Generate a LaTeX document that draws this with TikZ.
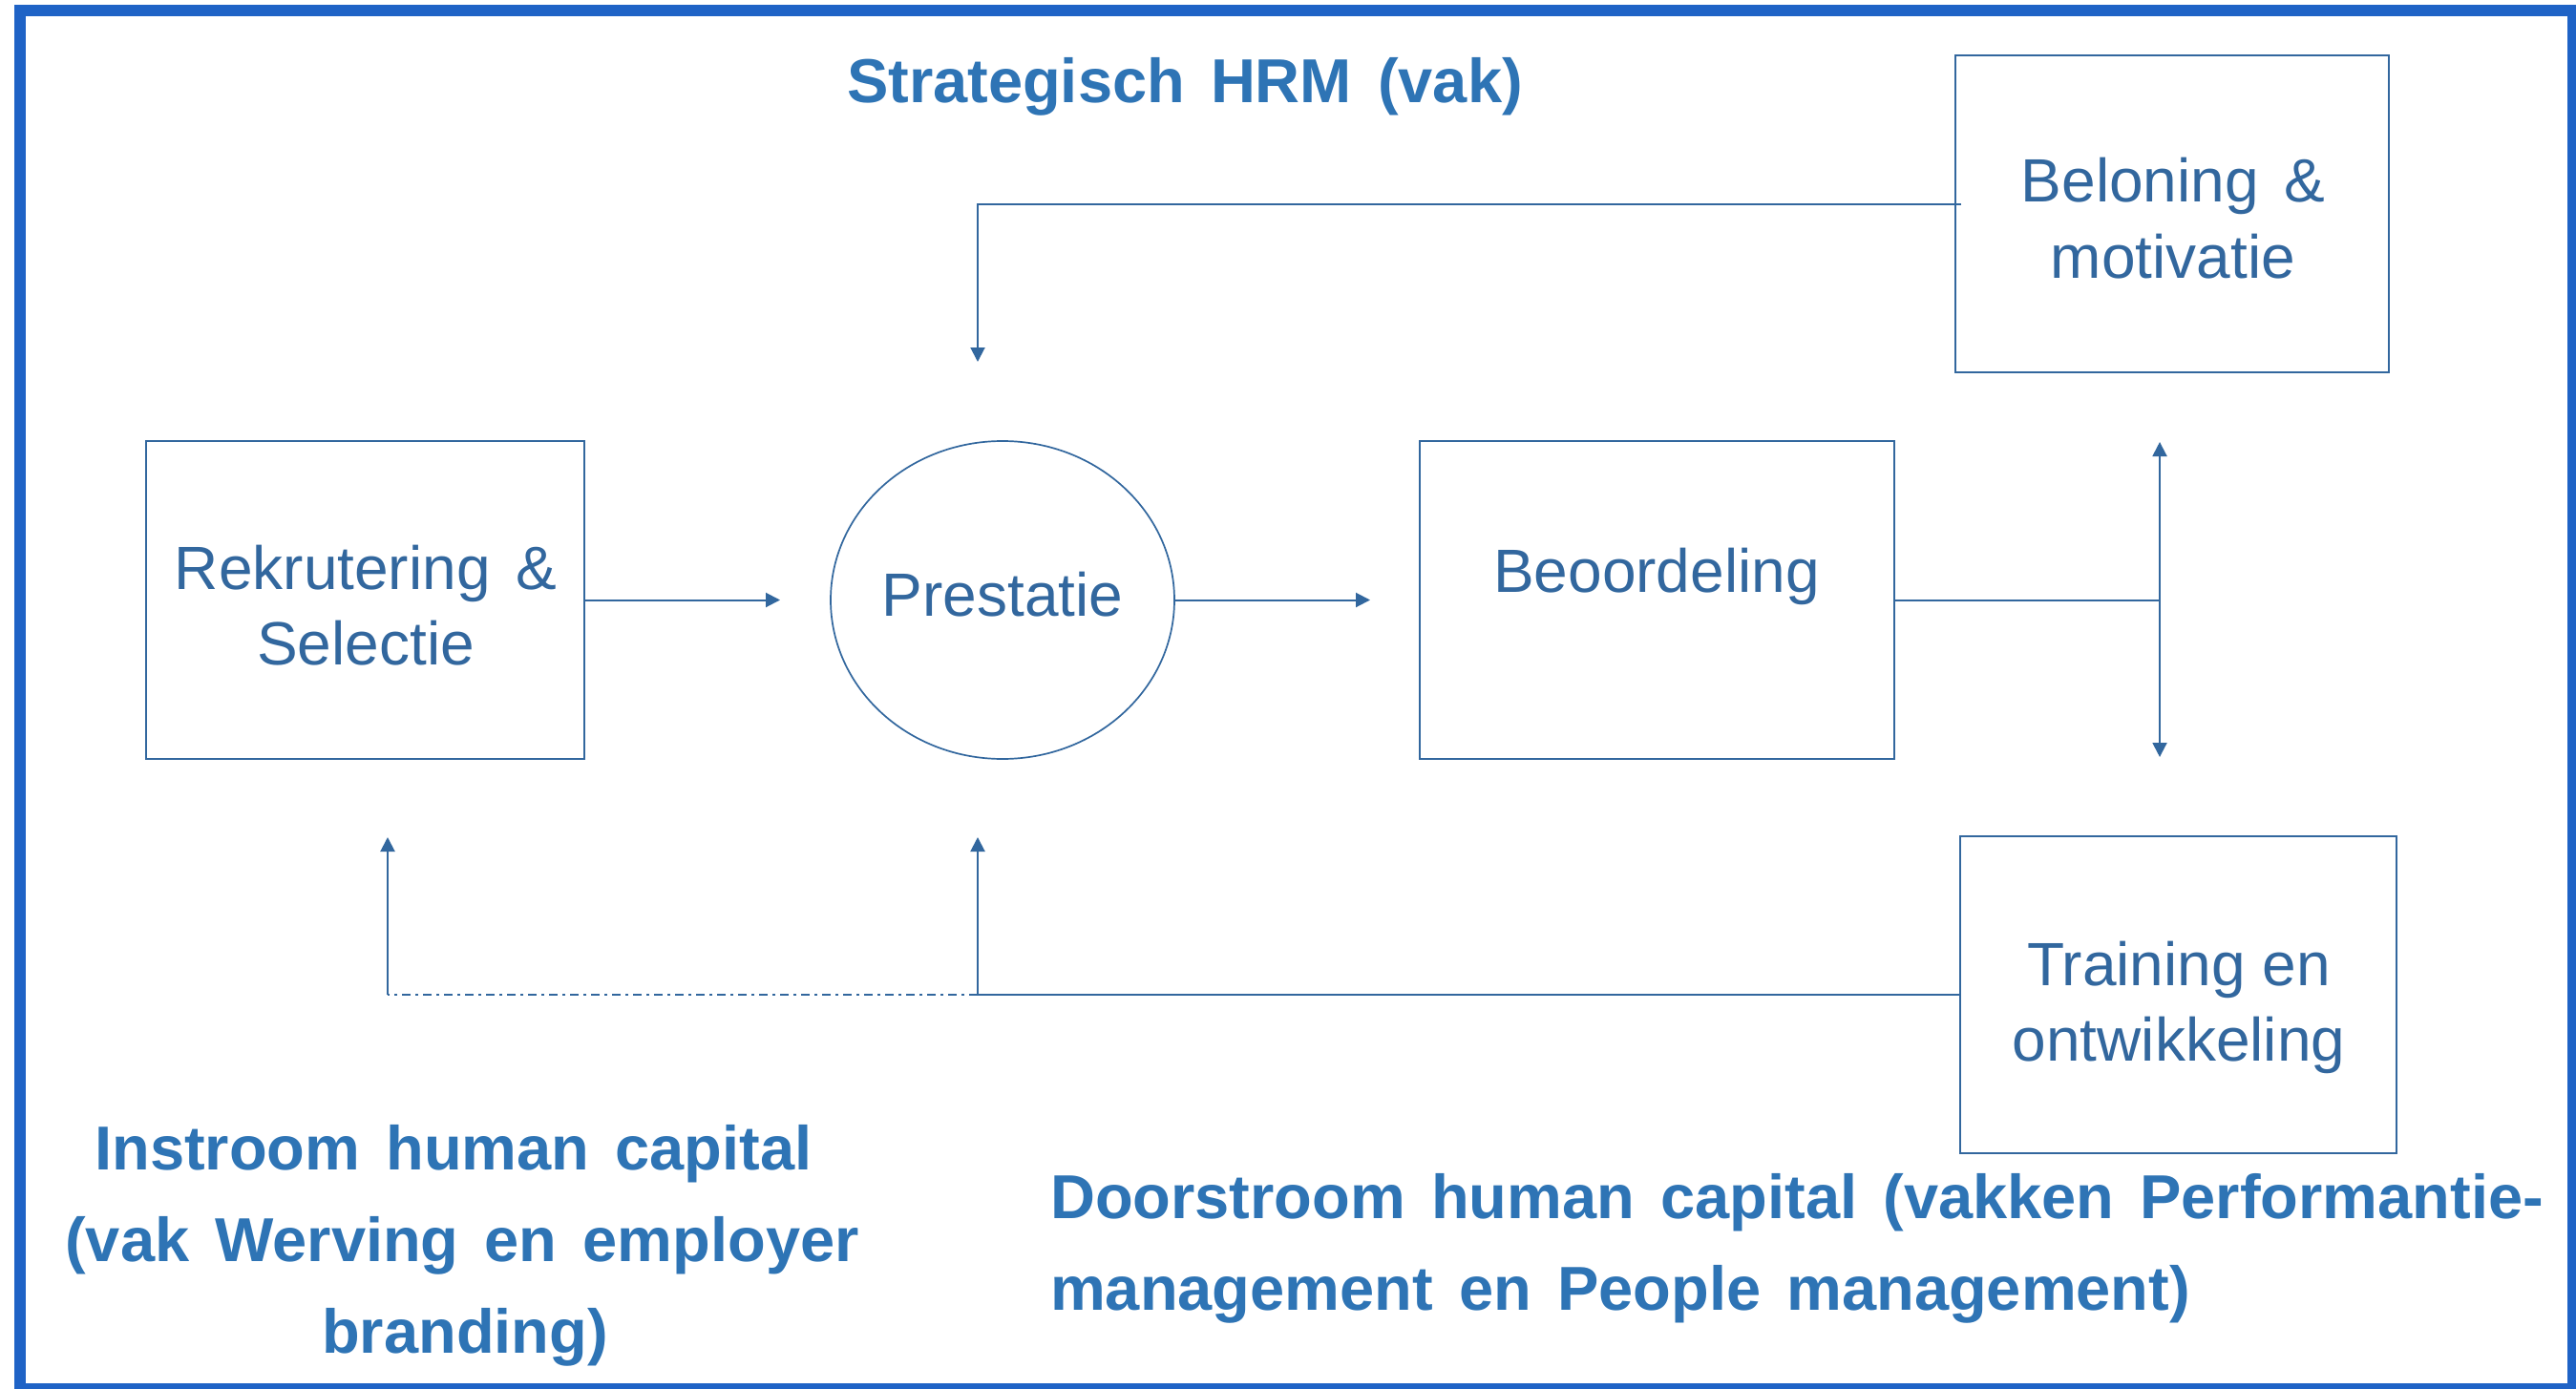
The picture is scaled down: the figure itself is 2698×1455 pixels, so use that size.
\documentclass[tikz,border=0pt]{standalone}
\usepackage{fontspec}
\setmainfont{Liberation Sans}
\newfontfamily\boxfamily[WordSpace=1.44]{Liberation Sans}
\newfontfamily\lblfamily[WordSpace=1.5]{Liberation Sans}
\usetikzlibrary{arrows.meta,shapes.geometric}
\definecolor{lineblue}{HTML}{32679E}
\definecolor{labelblue}{HTML}{2E74B5}
\definecolor{frameblue}{HTML}{1F63C6}
\begin{document}
\begin{tikzpicture}[x=1pt,y=-1pt,
  box/.style={draw=lineblue, line width=2pt, rectangle, inner sep=0pt},
  circbox/.style={draw=lineblue, line width=1.7pt, ellipse, inner sep=0pt},
  boxtext/.style={text=lineblue, font=\boxfamily\fontsize{64}{80}\selectfont, anchor=base, inner sep=0pt},
  lbltext/.style={text=labelblue, font=\lblfamily\bfseries\fontsize{65}{96}\selectfont, anchor=base, inner sep=0pt},
  conn/.style={draw=lineblue, line width=2pt},
  arr/.style={conn, -{Triangle[length=15pt,width=15pt]}},
  dashdot/.style={conn, dash pattern=on 9pt off 5pt on 3pt off 5pt}]
\useasboundingbox (0,0) rectangle (2698,1455);
\fill[white] (0,0) rectangle (2698,1455);
\draw[frameblue, line width=12pt] (21,11) rectangle (2695,1455);

% boxes
\node[box, minimum width=459pt, minimum height=333pt] (rek) at (382.5,628.5) {};
\node[circbox, minimum width=360pt, minimum height=333pt] (prest) at (1050,628.5) {};
\node[box, minimum width=497pt, minimum height=333pt] (beo) at (1735.5,628.5) {};
\node[box, minimum width=454pt, minimum height=332pt] (bel) at (2275,224) {};
\node[box, minimum width=457pt, minimum height=332pt] (train) at (2281.5,1042) {};

% box texts
\node[boxtext] (rekA) at (383,617) {Rekrutering \&};
\node[boxtext] (rekB) at (383,696) {Selectie};
\node[boxtext] (prestT) at (1050,645) {Prestatie};
\node[boxtext] (beoT) at (1735,620) {Beoordeling};
\node[boxtext] (belA) at (2276,212) {Beloning \&};
\node[boxtext] (belB) at (2276,292) {motivatie};
\node[boxtext, font=\rmfamily\fontsize{64}{80}\selectfont] (trA) at (2282,1032) {Training en};
\node[boxtext] (trB) at (2282,1111) {ontwikkeling};

% bold labels
\node[lbltext] (strat) at (1241,108) {Strategisch HRM (vak)};
\node[lbltext] (inA) at (475,1225) {Instroom human capital};
\node[lbltext] (inB) at (484,1321) {(vak Werving en employer};
\node[lbltext] (inC) at (487,1417) {branding)};
\node[lbltext, anchor=base west] (doA) at (1100,1276) {Doorstroom human capital (vakken Performantie-};
\node[lbltext, anchor=base west] (doB) at (1100,1372) {management en People management)};

% connectors
\coordinate (t1) at (817,628.5);
\draw[arr] (rek.east) -- (t1);
\coordinate (t2) at (1435,628.5);
\draw[arr] (prest.east) -- (t2);
\coordinate (j) at (2262,628.5);
\coordinate (jup) at (2262,463);
\coordinate (jdn) at (2262,793);
\draw[conn] (beo.east) -- (j);
\draw[arr] (j) -- (jup);
\draw[arr] (j) -- (jdn);
\coordinate (belin) at (2054,214);
\coordinate (c1) at (1024,214);
\coordinate (t3) at (1024,379);
\draw[arr] (belin) -- (c1) -- (t3);
\coordinate (c2) at (1024,1042);
\coordinate (t4) at (1024,877);
\draw[arr] (train.west) -- (c2) -- (t4);
\coordinate (c3) at (406,1042);
\coordinate (t5) at (406,877);
\draw[dashdot] (c2) -- (c3);
\draw[arr] (c3) -- (t5);
\end{tikzpicture}
\end{document}
